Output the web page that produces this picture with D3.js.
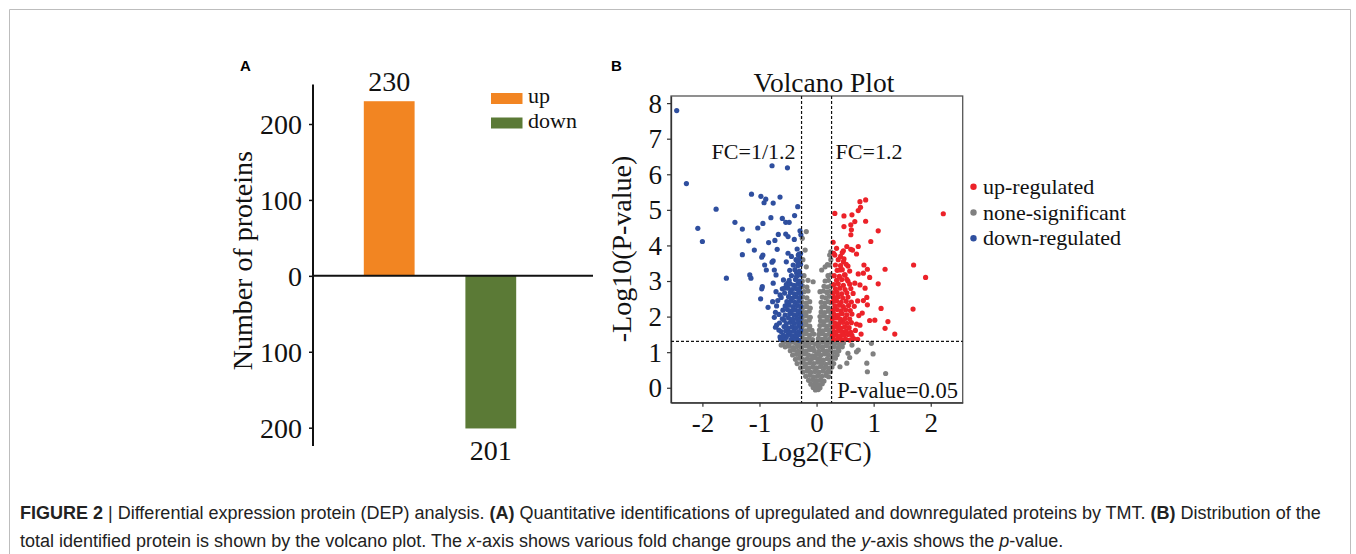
<!DOCTYPE html>
<html>
<head>
<meta charset="utf-8">
<script src="https://cdn.jsdelivr.net/npm/d3@7"></script>
<style>
  body { margin: 0; background: #fff; }
  svg { display: block; }
  .serif { font-family: "Liberation Serif", "Times New Roman", serif; fill: #111; }
  .axis text { font-family: "Liberation Serif", "Times New Roman", serif; fill: #111; }
</style>
</head>
<body>
<svg id="fig" width="1356" height="554"></svg>
<script>
// ---- panel A data
var barCats = ['up', 'down'];
var barValues = [230, -201];
var barColors = ['#f28522', '#5b7a36'];
var barTicks = [-200, -100, 0, 100, 200];

// ---- panel B data: [log2(FC), -log10(P)]
var volcanoXTicks = [-2, -1, 0, 1, 2];
var volcanoYTicks = [0, 1, 2, 3, 4, 5, 6, 7, 8];
var fcCut = 1.2;
var pCut = 0.05;

var grayPts = [
  [-0.58,1.27],[-0.50,1.25],[-0.44,1.28],[-0.37,1.26],[-0.30,1.24],[-0.23,1.28],[-0.16,1.25],[-0.09,1.27],[-0.02,1.23],[0.05,1.26],[0.12,1.28],[0.19,1.24],[0.26,1.27],[0.33,1.25],[0.40,1.22],[0.47,1.26],
  [-0.55,1.15],[-0.48,1.17],[-0.41,1.13],[-0.34,1.16],[-0.27,1.14],[-0.20,1.18],[-0.13,1.15],[-0.06,1.12],[0.03,1.16],[0.10,1.14],[0.17,1.18],[0.24,1.13],[0.31,1.16],[0.38,1.12],[0.45,1.15],
  [-0.46,1.04],[-0.39,1.06],[-0.32,1.02],[-0.25,1.05],[-0.18,1.03],[-0.11,1.07],[-0.04,1.04],[0.04,1.02],[0.11,1.06],[0.18,1.03],[0.25,1.05],[0.32,1.01],[0.39,1.04],
  [-0.42,0.92],[-0.35,0.94],[-0.28,0.91],[-0.21,0.95],[-0.14,0.92],[-0.07,0.90],[0.00,0.94],[0.07,0.91],[0.14,0.95],[0.21,0.92],[0.28,0.90],[0.36,0.93],
  [-0.37,0.80],[-0.30,0.83],[-0.23,0.79],[-0.16,0.82],[-0.09,0.80],[-0.02,0.84],[0.05,0.81],[0.12,0.78],[0.19,0.82],[0.26,0.80],[0.33,0.83],
  [-0.34,0.68],[-0.26,0.71],[-0.19,0.67],[-0.12,0.70],[-0.05,0.68],[0.02,0.72],[0.09,0.69],[0.16,0.66],[0.23,0.70],[0.30,0.68],
  [-0.28,0.56],[-0.21,0.59],[-0.14,0.55],[-0.07,0.58],[0.00,0.56],[0.07,0.60],[0.14,0.57],[0.21,0.55],[0.27,0.58],
  [-0.24,0.44],[-0.17,0.47],[-0.10,0.43],[-0.03,0.46],[0.04,0.44],[0.11,0.47],[0.18,0.43],[0.24,0.45],
  [-0.19,0.32],[-0.12,0.35],[-0.05,0.31],[0.02,0.34],[0.09,0.32],[0.16,0.35],[0.21,0.31],
  [-0.14,0.21],[-0.07,0.23],[0.00,0.20],[0.07,0.22],[0.13,0.19],
  [-0.10,0.10],[-0.03,0.12],[0.04,0.09],[0.10,0.11],
  [-0.06,0.01],[0.01,0.03],[0.06,0.00],
  [-0.02,-0.06],[0.03,-0.05],
  [0.73,1.06],[0.70,1.01],[0.55,0.97],[0.53,0.69],[0.41,0.59],[0.96,1.25],[0.99,0.95],[0.88,0.69],[0.89,0.45],[1.21,0.40],[0.62,1.20],[0.58,0.85],[-0.62,1.20],
  // left arm above cut
  [-0.25,1.38],[-0.19,1.36],[-0.13,1.39],[-0.07,1.35],
  [-0.24,1.50],[-0.18,1.52],[-0.12,1.48],[-0.05,1.51],
  [-0.25,1.62],[-0.19,1.60],[-0.13,1.64],[-0.08,1.61],
  [-0.24,1.75],[-0.18,1.77],[-0.12,1.73],
  [-0.25,1.88],[-0.19,1.86],[-0.13,1.90],
  [-0.24,2.00],[-0.18,2.02],[-0.11,1.98],
  [-0.25,2.13],[-0.19,2.11],[-0.13,2.15],
  [-0.23,2.26],[-0.17,2.28],[-0.11,2.24],
  [-0.25,2.40],[-0.18,2.38],[-0.12,2.42],
  [-0.24,2.55],[-0.17,2.53],
  [-0.22,2.70],[-0.15,2.72],
  [-0.24,2.85],[-0.17,2.83],
  [-0.25,3.00],[-0.15,3.02],[-0.06,2.98],
  [-0.22,3.15],[-0.18,3.40],[-0.24,3.60],[-0.20,3.87],[-0.25,4.20],[-0.18,4.39],
  // right arm above cut
  [0.03,1.38],[0.09,1.36],[0.15,1.39],[0.21,1.35],[0.25,1.40],
  [0.04,1.50],[0.10,1.52],[0.16,1.48],[0.22,1.51],
  [0.05,1.62],[0.11,1.60],[0.17,1.64],[0.23,1.61],
  [0.06,1.75],[0.12,1.77],[0.18,1.73],[0.24,1.76],
  [0.07,1.88],[0.13,1.86],[0.19,1.90],[0.25,1.87],
  [0.06,2.00],[0.12,2.02],[0.18,1.98],[0.24,2.01],
  [0.08,2.13],[0.14,2.11],[0.20,2.15],[0.25,2.12],
  [0.09,2.26],[0.15,2.28],[0.21,2.24],
  [0.08,2.40],[0.14,2.38],[0.20,2.42],[0.25,2.39],
  [0.10,2.55],[0.16,2.53],[0.22,2.57],
  [0.06,2.70],[0.12,2.72],[0.18,2.68],[0.24,2.71],
  [0.13,2.85],[0.19,2.83],[0.25,2.87],
  [0.15,3.00],[0.21,3.02],
  [0.20,3.15],[0.25,3.17],
  [0.09,3.31],[0.15,3.40],[0.23,3.45],[0.19,3.46],
  [0.25,3.60],[0.23,3.73],[0.25,3.82]
];

var downPts = [
  [-2.45,7.79],[-2.28,5.74],[-0.78,6.24],[-0.51,6.18],[-1.14,5.44],[-0.975,5.38],[-0.89,5.30],[-0.92,5.20],
  [-0.76,5.19],[-0.64,5.36],[-0.33,5.09],[-1.76,5.02],[-1.43,4.65],[-0.94,4.62],[-0.80,4.78],[-0.60,4.76],
  [-0.54,4.65],[-0.48,4.65],[-0.385,4.84],[-2.08,4.48],[-2.00,4.11],[-1.30,4.46],[-1.03,4.49],[-1.19,4.13],
  [-1.30,3.74],[-1.58,3.08],[-1.17,3.17],[-1.15,3.08],[-0.96,2.78],[-0.95,2.84],[-1.09,3.87],[-0.94,3.73],
  [-0.96,3.67],[-0.84,4.08],[-0.73,4.14],[-0.69,3.89],[-0.76,3.57],[-0.78,3.53],[-0.91,3.45],[-0.88,3.31],
  [-0.74,3.31],[-0.71,3.17],[-0.67,4.31],[-0.54,4.32],[-0.50,4.25],[-0.39,4.17],[-0.29,4.41],[-0.275,4.30],
  [-0.50,3.78],[-0.44,3.69],[-0.32,3.73],[-0.33,3.54],[-0.53,3.54],[-0.58,3.03],[-0.50,2.94],[-0.35,3.23],
  [-0.76,2.94],[-0.71,2.70],[-0.98,2.50],[-0.77,2.42],[-0.85,2.26],[-0.70,2.30],[-0.64,2.61],[-0.56,2.80],
  [-0.61,1.39],[-0.53,1.43],[-0.70,1.76],[-0.57,1.90],[-0.35,1.39],[-0.64,1.43],
  [-0.72,2.12],[-0.68,2.45],[-0.74,1.98],[-0.66,1.62],
  // dense block near the FC cut
  [-0.63,1.36],[-0.55,1.38],[-0.45,1.35],[-0.38,1.37],[-0.31,1.34],
  [-0.58,1.47],[-0.50,1.49],[-0.43,1.46],[-0.36,1.48],[-0.30,1.50],
  [-0.62,1.58],[-0.54,1.60],[-0.47,1.57],[-0.40,1.59],[-0.33,1.56],[-0.28,1.61],
  [-0.72,1.70],[-0.57,1.72],[-0.50,1.68],[-0.43,1.71],[-0.36,1.69],[-0.30,1.73],
  [-0.65,1.82],[-0.53,1.80],[-0.46,1.84],[-0.39,1.81],[-0.32,1.83],[-0.28,1.79],
  [-0.60,1.94],[-0.49,1.96],[-0.42,1.92],[-0.35,1.95],[-0.29,1.93],
  [-0.66,2.06],[-0.55,2.04],[-0.47,2.08],[-0.40,2.05],[-0.33,2.07],[-0.28,2.03],
  [-0.59,2.18],[-0.51,2.20],[-0.44,2.16],[-0.37,2.19],[-0.30,2.17],
  [-0.55,2.30],[-0.48,2.32],[-0.41,2.28],[-0.34,2.31],[-0.28,2.29],
  [-0.52,2.42],[-0.45,2.44],[-0.38,2.40],[-0.31,2.43],
  [-0.62,2.54],[-0.49,2.56],[-0.42,2.52],[-0.35,2.55],[-0.29,2.53],
  [-0.56,2.66],[-0.46,2.68],[-0.39,2.64],[-0.32,2.67],[-0.28,2.65],
  [-0.60,2.78],[-0.50,2.80],[-0.43,2.76],[-0.36,2.79],[-0.30,2.77],
  [-0.53,2.90],[-0.46,2.92],[-0.40,2.88],[-0.33,2.91],[-0.28,2.89],
  [-0.48,3.02],[-0.37,3.04],[-0.30,3.00],
  [-0.44,3.15],[-0.35,3.13],[-0.29,3.17],
  [-0.47,3.30],[-0.38,3.32],[-0.30,3.28],
  [-0.41,3.45],[-0.33,3.43],[-0.28,3.47],
  [-0.36,3.60],[-0.30,3.62],[-0.31,3.75],[-0.28,3.77],[-0.34,3.90]
];

var upPts = [
  [2.22,4.89],[0.32,4.90],[0.48,4.83],[0.62,4.86],[0.76,5.23],[0.86,5.28],[0.73,4.98],[0.77,5.07],
  [0.48,4.53],[0.60,4.58],[0.67,4.67],[0.86,4.68],[0.61,4.44],[0.60,4.30],[1.08,4.41],[0.95,4.11],
  [0.29,4.09],[0.35,3.92],[0.53,3.97],[0.60,3.89],[0.63,3.87],[0.73,3.97],[0.47,3.85],[0.32,3.73],
  [0.42,3.69],[0.70,3.76],[1.70,3.45],[1.91,3.10],[1.20,3.33],[0.83,3.45],[0.89,3.33],[0.82,3.22],
  [0.93,3.10],[1.08,2.92],[0.73,3.20],[0.47,3.54],[0.55,3.42],[0.41,3.31],[0.50,3.17],[0.53,3.05],
  [0.67,2.94],[0.76,2.89],[0.85,2.80],[0.88,2.54],[0.89,2.33],[1.13,2.23],[1.69,2.21],[0.93,1.89],
  [1.02,1.90],[1.25,1.86],[1.20,1.67],[1.37,1.51],[0.78,1.51],[0.76,1.76],[0.80,2.10],[0.82,2.45],
  // dense block near the FC cut
  [0.30,1.36],[0.37,1.38],[0.44,1.35],[0.51,1.37],[0.58,1.34],[0.65,1.38],[0.72,1.36],
  [0.28,1.47],[0.34,1.49],[0.41,1.46],[0.48,1.48],[0.55,1.50],[0.62,1.47],
  [0.31,1.58],[0.38,1.60],[0.45,1.57],[0.52,1.59],[0.60,1.56],[0.68,1.61],
  [0.29,1.70],[0.35,1.72],[0.42,1.68],[0.49,1.71],[0.57,1.69],
  [0.32,1.82],[0.39,1.80],[0.46,1.84],[0.53,1.81],[0.61,1.83],[0.70,1.79],
  [0.28,1.94],[0.35,1.96],[0.42,1.92],[0.50,1.95],[0.58,1.93],
  [0.31,2.06],[0.38,2.04],[0.45,2.08],[0.53,2.05],[0.62,2.07],[0.74,2.03],
  [0.29,2.18],[0.36,2.20],[0.43,2.16],[0.51,2.19],[0.59,2.17],
  [0.32,2.30],[0.40,2.32],[0.47,2.28],[0.56,2.31],[0.66,2.29],
  [0.28,2.42],[0.35,2.44],[0.43,2.40],[0.52,2.43],[0.61,2.41],[0.72,2.44],
  [0.31,2.54],[0.38,2.56],[0.46,2.52],[0.55,2.55],
  [0.29,2.66],[0.36,2.68],[0.44,2.64],[0.53,2.67],[0.64,2.65],
  [0.33,2.78],[0.41,2.80],[0.50,2.76],[0.60,2.79],
  [0.30,2.90],[0.38,2.92],[0.47,2.88],[0.58,2.91],
  [0.35,3.02],[0.44,3.04],[0.55,3.00],
  [0.31,3.15],[0.40,3.13],[0.49,3.17],
  [0.36,3.30],[0.45,3.32],[0.58,3.28],
  [0.33,3.45],[0.42,3.43],[0.52,3.47],
  [0.38,3.60],[0.48,3.62],[0.30,3.78],[0.45,3.80]
];

var legendItems = [
  {label: 'up-regulated', color: '#ec2229'},
  {label: 'none-significant', color: '#808080'},
  {label: 'down-regulated', color: '#2f4f9f'}
];

var svg = d3.select('#fig');

// outer figure frame, open at the bottom
svg.append('path')
  .attr('d', 'M9.5,560V9.5H1350.5V560')
  .attr('fill', 'none')
  .attr('stroke', '#bdbdbd')
  .attr('stroke-width', 1);

// =========================== panel A ===========================
function drawBars() {
  var yBar = d3.scaleLinear().domain([-200, 200]).range([427.7, 124])
    , xBar = d3.scaleBand().domain(barCats).range([313, 567]).paddingInner(0.5).paddingOuter(0.5)
    , g = svg.append('g');

  g.selectAll('rect.bar')
    .data(barCats)
    .enter().append('rect')
    .attr('class', 'bar')
    .attr('x', function (d) { return xBar(d); })
    .attr('width', xBar.bandwidth())
    .attr('y', function (d, i) { return yBar(Math.max(0, barValues[i])); })
    .attr('height', function (d, i) { return Math.abs(yBar(barValues[i]) - yBar(0)); })
    .attr('fill', function (d, i) { return barColors[i]; });

  var yAx = d3.axisLeft(yBar)
    .tickValues(barTicks)
    .tickFormat(function (d) { return Math.abs(d); })
    .tickSizeInner(4)
    .tickSizeOuter(0)
    .tickPadding(7);

  var ax = g.append('g')
    .attr('class', 'axis')
    .attr('transform', 'translate(313,0)')
    .call(yAx);
  ax.select('.domain').remove();
  ax.selectAll('line').attr('stroke', '#111').attr('stroke-width', 1.5);
  ax.selectAll('text').style('font-size', '28px').attr('dy', '0.34em');

  // axis spine longer than the tick range
  g.append('line')
    .attr('x1', 313).attr('x2', 313)
    .attr('y1', yBar(252)).attr('y2', yBar(-224))
    .attr('stroke', '#111').attr('stroke-width', 2);

  // zero line
  g.append('line')
    .attr('x1', 313).attr('x2', 593)
    .attr('y1', yBar(0)).attr('y2', yBar(0))
    .attr('stroke', '#111').attr('stroke-width', 2);

  // value labels
  g.selectAll('text.val')
    .data(barCats)
    .enter().append('text')
    .attr('class', 'val serif')
    .attr('text-anchor', 'middle')
    .attr('x', function (d) { return xBar(d) + xBar.bandwidth() / 2; })
    .attr('y', function (d, i) { return barValues[i] > 0 ? yBar(barValues[i]) - 10 : yBar(barValues[i]) + 32; })
    .style('font-size', '28px')
    .text(function (d, i) { return Math.abs(barValues[i]); });

  g.append('text')
    .attr('class', 'serif')
    .attr('transform', 'translate(252,' + yBar(20) + ') rotate(-90)')
    .attr('text-anchor', 'middle')
    .style('font-size', '28px')
    .text('Number of proteins');

  // legend
  var lg = g.selectAll('g.leg')
    .data(barCats)
    .enter().append('g')
    .attr('class', 'leg')
    .attr('transform', function (d, i) { return 'translate(491,' + (93 + i * 24.5) + ')'; });
  lg.append('rect')
    .attr('width', 31.5).attr('height', 11)
    .attr('fill', function (d, i) { return barColors[i]; });
  lg.append('text')
    .attr('class', 'serif')
    .attr('x', 37).attr('y', 10)
    .style('font-size', '22px')
    .text(function (d) { return d; });

  svg.append('text')
    .attr('x', 240).attr('y', 71)
    .style('font', 'bold 15px "Liberation Sans", Arial, sans-serif')
    .text('A');
}

// =========================== panel B ===========================
function drawVolcano() {
  var x = d3.scaleLinear().domain([-2.55, 2.56]).range([671, 962.7])
    , y = d3.scaleLinear().domain([-0.42, 8.2]).range([402.7, 96])
    , g = svg.append('g')
    , r = 2.6;

  g.append('rect')
    .attr('x', 671).attr('y', 96)
    .attr('width', 962.7 - 671).attr('height', 402.7 - 96)
    .attr('fill', 'none')
    .attr('stroke', '#555')
    .attr('stroke-width', 1.3);

  var xAx = d3.axisBottom(x).tickValues(volcanoXTicks).tickFormat(function (d) { return String(d); })
      .tickSizeInner(4).tickSizeOuter(0).tickPadding(5)
    , yAx = d3.axisLeft(y).tickValues(volcanoYTicks).tickFormat(function (d) { return String(d); })
      .tickSizeInner(4).tickSizeOuter(0).tickPadding(5);

  var gx = g.append('g').attr('class', 'axis').attr('transform', 'translate(0,402.7)').call(xAx);
  var gy = g.append('g').attr('class', 'axis').attr('transform', 'translate(671,0)').call(yAx);
  [gx, gy].forEach(function (a) {
    a.select('.domain').attr('stroke', '#333').attr('stroke-width', 1.3);
    a.selectAll('line').attr('stroke', '#333').attr('stroke-width', 1.2);
    a.selectAll('text').style('font-size', '27px');
  });
  gx.selectAll('text').attr('dy', '0.74em');
  gy.selectAll('text').attr('dy', '0.33em');

  var groups = [
    {pts: grayPts, color: legendItems[1].color},
    {pts: downPts, color: legendItems[2].color},
    {pts: upPts, color: legendItems[0].color}
  ];
  groups.forEach(function (grp) {
    g.append('g').selectAll('circle')
      .data(grp.pts)
      .enter().append('circle')
      .attr('cx', function (d) { return x(d[0]); })
      .attr('cy', function (d) { return y(d[1]); })
      .attr('r', r)
      .attr('fill', grp.color);
  });

  // threshold lines
  var fcLines = [Math.log2(1 / fcCut), Math.log2(fcCut)]
    , pLine = -Math.log10(pCut);
  g.selectAll('line.fc')
    .data(fcLines)
    .enter().append('line')
    .attr('class', 'fc')
    .attr('x1', function (d) { return x(d); }).attr('x2', function (d) { return x(d); })
    .attr('y1', 96).attr('y2', 402.7)
    .attr('stroke', '#111').attr('stroke-width', 1.2).attr('stroke-dasharray', '3,2');
  g.append('line')
    .attr('x1', 671).attr('x2', 962.7)
    .attr('y1', y(pLine)).attr('y2', y(pLine))
    .attr('stroke', '#111').attr('stroke-width', 1.2).attr('stroke-dasharray', '3,2');

  g.append('text').attr('class', 'serif')
    .attr('x', x(fcLines[0]) - 6).attr('y', 159).attr('text-anchor', 'end')
    .style('font-size', '22px').text('FC=1/1.2');
  g.append('text').attr('class', 'serif')
    .attr('x', x(fcLines[1]) + 4).attr('y', 159)
    .style('font-size', '22px').text('FC=1.2');
  g.append('text').attr('class', 'serif')
    .attr('x', 958).attr('y', 398).attr('text-anchor', 'end')
    .style('font-size', '22.5px').text('P-value=0.05');

  g.append('text').attr('class', 'serif')
    .attr('x', 824).attr('y', 92).attr('text-anchor', 'middle')
    .style('font-size', '27.5px').text('Volcano Plot');
  g.append('text').attr('class', 'serif')
    .attr('x', x(0)).attr('y', 461).attr('text-anchor', 'middle')
    .style('font-size', '27.5px').text('Log2(FC)');
  g.append('text').attr('class', 'serif')
    .attr('transform', 'translate(631,' + y(3.9) + ') rotate(-90)')
    .attr('text-anchor', 'middle')
    .style('font-size', '28px').text('-Log10(P-value)');

  // legend
  var lg = g.selectAll('g.vleg')
    .data(legendItems)
    .enter().append('g')
    .attr('class', 'vleg')
    .attr('transform', function (d, i) { return 'translate(973.5,' + (186.7 + i * 25.8) + ')'; });
  lg.append('circle').attr('r', 3.2).attr('fill', function (d) { return d.color; });
  lg.append('text').attr('class', 'serif')
    .attr('x', 9.5).attr('y', 7)
    .style('font-size', '22px')
    .text(function (d) { return d.label; });

  svg.append('text')
    .attr('x', 611).attr('y', 71)
    .style('font', 'bold 15px "Liberation Sans", Arial, sans-serif')
    .text('B');
}

// =========================== caption ===========================
function drawCaption() {
  var cap = svg.append('g')
    .style('font-family', '"Liberation Sans", Arial, sans-serif')
    .style('font-size', '18px')
    .style('fill', '#222');

  var line1 = cap.append('text').attr('x', 20).attr('y', 519);
  line1.append('tspan').style('font-weight', 'bold').text('FIGURE 2');
  line1.append('tspan').text(' | Differential expression protein (DEP) analysis. ');
  line1.append('tspan').style('font-weight', 'bold').text('(A)');
  line1.append('tspan').text(' Quantitative identifications of upregulated and downregulated proteins by TMT. ');
  line1.append('tspan').style('font-weight', 'bold').text('(B)');
  line1.append('tspan').text(' Distribution of the');

  var line2 = cap.append('text').attr('x', 20).attr('y', 547);
  line2.append('tspan').text('total identified protein is shown by the volcano plot. The ');
  line2.append('tspan').style('font-style', 'italic').text('x');
  line2.append('tspan').text('-axis shows various fold change groups and the ');
  line2.append('tspan').style('font-style', 'italic').text('y');
  line2.append('tspan').text('-axis shows the ');
  line2.append('tspan').style('font-style', 'italic').text('p');
  line2.append('tspan').text('-value.');
}

drawBars();
drawVolcano();
drawCaption();
</script>
</body>
</html>
